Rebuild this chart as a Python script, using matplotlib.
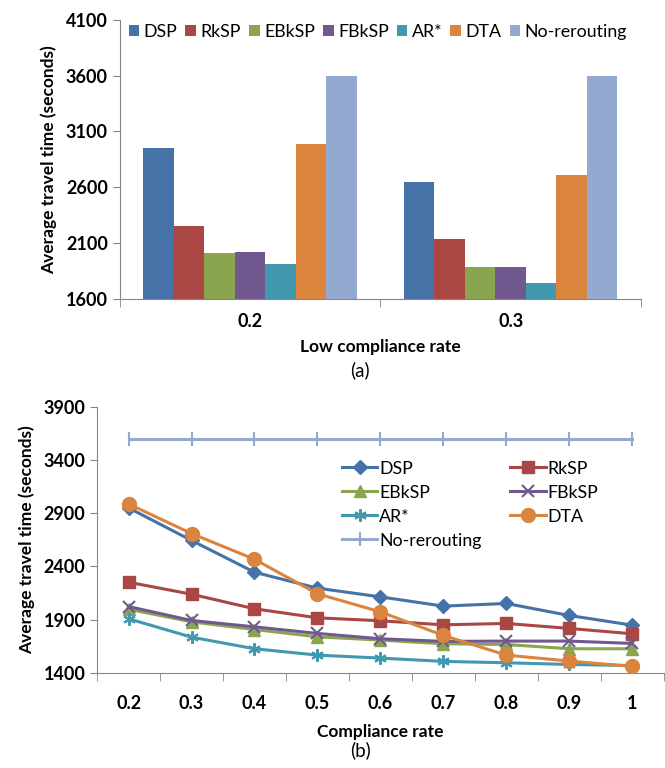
import matplotlib.pyplot as plt
import numpy as np

plt.rcParams['font.family'] = ['Lato', 'DejaVu Sans']

methods = ["DSP", "RkSP", "EBkSP", "FBkSP", "AR*", "DTA", "No-rerouting"]
colors = ["#4572A7", "#AA4643", "#89A54E", "#71588F", "#4198AF", "#DB843D", "#93A9CF"]

# (a) low compliance rate bars
low_rates = ["0.2", "0.3"]
bar_values = {
    "DSP": [2950, 2651],
    "RkSP": [2251, 2138],
    "EBkSP": [2012, 1884],
    "FBkSP": [2018, 1887],
    "AR*": [1914, 1737],
    "DTA": [2989, 2714],
    "No-rerouting": [3600, 3600],
}

# (b) compliance rate lines
rates = ["0.2", "0.3", "0.4", "0.5", "0.6", "0.7", "0.8", "0.9", "1"]
dsp = [2951, 2645, 2346, 2196, 2114, 2027, 2052, 1939, 1848]
rksp = [2252, 2139, 2002, 1917, 1889, 1851, 1864, 1817, 1767]
ebksp = [1998, 1879, 1807, 1738, 1707, 1673, 1666, 1626, 1626]
fbksp = [2023, 1892, 1832, 1770, 1720, 1695, 1698, 1698, 1676]
arstar = [1908, 1735, 1626, 1566, 1538, 1507, 1494, 1478, 1468]
dta = [2988, 2710, 2468, 2143, 1973, 1751, 1566, 1510, 1460]
norerouting = [3600] * 9
line_values = [dsp, rksp, ebksp, fbksp, arstar, dta, norerouting]
markers = ["D", "s", "^", "x", (6, 2, 0), "o", "|"]
msizes = [7, 9, 8, 8, 9, 10, 10]

axis_gray = "#868686"
tick_fs = 13

fig = plt.figure(figsize=(6.65, 7.68), dpi=100)


def style_axes(ax):
    ax.tick_params(axis='x', which='minor', length=6, color=axis_gray, direction='out')
    ax.tick_params(axis='y', length=5, color=axis_gray, direction='out')
    for lab in ax.get_xticklabels() + ax.get_yticklabels():
        lab.set_fontweight('bold')
        lab.set_fontsize(tick_fs)
    for s in ["top", "right"]:
        ax.spines[s].set_visible(False)
    for s in ["left", "bottom"]:
        ax.spines[s].set_color(axis_gray)


# ---- (a)
ax1 = fig.add_axes([0.180, 0.611, 0.784, 0.363])
n = len(methods)
width = 0.117
x = np.arange(len(low_rates))
for i, m in enumerate(methods):
    ax1.bar(x + (i - (n - 1) / 2) * width, np.array(bar_values[m]) - 1600, width,
            bottom=1600, color=colors[i], label=m)
ax1.set_xlim(-0.5, 1.5)
ax1.set_ylim(1600, 4100)
ax1.set_yticks(np.arange(1600, 4101, 500))
ax1.set_xticks(x)
ax1.set_xticklabels(low_rates)
ax1.set_xticks([-0.5, 0.5, 1.5], minor=True)
ax1.tick_params(axis='x', which='major', length=0, pad=10)
style_axes(ax1)
ax1.set_ylabel("Average travel time (seconds)", fontsize=12.5, fontweight='bold', labelpad=6)
ax1.set_xlabel("Low compliance rate", fontsize=12.5, fontweight='bold', labelpad=7)
ax1.legend(loc='upper center', bbox_to_anchor=(0.495, 1.03), ncol=7, frameon=False,
           fontsize=12.8, handlelength=0.6, handleheight=0.6, handletextpad=0.25,
           columnspacing=0.45, borderpad=0.2)
fig.text(0.542, 0.518, "(a)", ha='center', va='center', fontsize=13.5)

# ---- (b)
ax2 = fig.add_axes([0.146, 0.124, 0.852, 0.346])
xp = np.arange(len(rates))
for i, m in enumerate(methods):
    plain = markers[i] in ("x", "|") or isinstance(markers[i], tuple)
    ax2.plot(xp, line_values[i], color=colors[i], lw=2.2, marker=markers[i],
             markersize=msizes[i], markerfacecolor=colors[i], markeredgecolor=colors[i],
             markeredgewidth=1.5 if plain else 1.0,
             label=m, zorder=3 + (i == 5))
ax2.set_xlim(-0.5, len(rates) - 0.5)
ax2.set_ylim(1400, 3900)
ax2.set_yticks(np.arange(1400, 3901, 500))
ax2.set_xticks(xp)
ax2.set_xticklabels(rates)
ax2.set_xticks(np.arange(-0.5, len(rates)), minor=True)
ax2.tick_params(axis='x', which='major', length=0, pad=16)
style_axes(ax2)
ax2.set_ylabel("Average travel time (seconds)", fontsize=12.5, fontweight='bold', labelpad=6)
ax2.set_xlabel("Compliance rate", fontsize=12.5, fontweight='bold', labelpad=9)

# row-wise legend order for two columns
handles, labels = ax2.get_legend_handles_labels()
order = [0, 2, 4, 6, 1, 3, 5]
ax2.legend([handles[k] for k in order], [labels[k] for k in order],
           loc='upper left', bbox_to_anchor=(0.41, 0.845), ncol=2, frameon=False,
           fontsize=12.8, handlelength=2.0, handletextpad=0.1, columnspacing=1.6,
           labelspacing=0.45, borderpad=0.2)
fig.text(0.542, 0.023, "(b)", ha='center', va='center', fontsize=13.5)

fig.savefig("out.png", dpi=100)
